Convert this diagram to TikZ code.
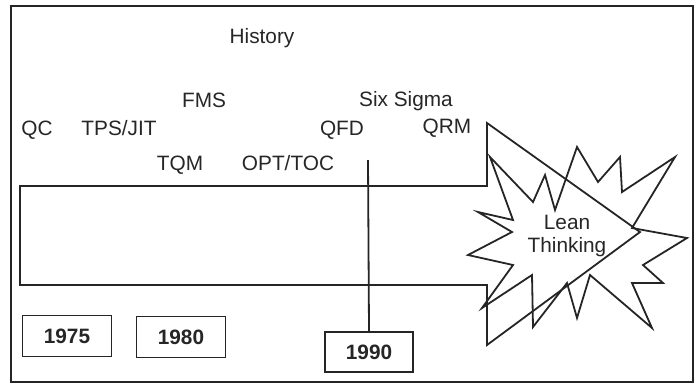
\documentclass[tikz,border=0pt]{standalone}
\usepackage{fontspec}
\setmainfont{Liberation Sans}
\usetikzlibrary{positioning}
\definecolor{cizgiGri}{HTML}{252525}
\definecolor{metinGri}{HTML}{262626}

\begin{document}
\begin{tikzpicture}[x=1pt,y=-1pt,line width=1.8pt,line join=miter,
  yazi/.style={text=metinGri,font=\fontsize{20.8}{23}\selectfont,inner sep=0pt},
  yil/.style={yazi,font=\fontsize{20.8}{23}\selectfont\bfseries,draw=cizgiGri,minimum width=89pt,minimum height=41pt}]
\useasboundingbox (0,0) rectangle (700,384);
\draw[cizgiGri] (11,6) rectangle (693,382);
% time arrow
\draw[cizgiGri] (20,186)--(487,186)--(487,123)--(640,232)--(487,345)--(487,285)--(20,285)--cycle;
% burst
\draw[cizgiGri] (490,157)--(533,202)--(545,175)--(555,210)--(577,147)--(598,182)
  --(620,157)--(622,192)--(675,157)--(632,228)--(687,238)--(643,265)--(663,283)
  --(632,283)--(652,328)--(590,275)--(577,318)--(567,283)--(533,327)--(532,275)
  --(482,308)--(513,265)--(468,255)--(512,232)--(478,212)--(513,220)--cycle;
\node[yazi,anchor=base] (baslik) at (262,43) {History};
\node[yazi,anchor=base] (fms) at (204,107) {FMS};
\node[yazi,anchor=base] (altiSigma) at (406,106) {Six Sigma};
\node[yazi,anchor=base] (qc) at (37,135) {QC};
\node[yazi,anchor=base] (tps) at (119,135) {TPS/JIT};
\node[yazi,anchor=base] (qfd) at (342,135) {QFD};
\node[yazi,anchor=base] (qrm) at (447,133) {QRM};
\node[yazi,anchor=base] (tqm) at (180,170) {TQM};
\node[yazi,anchor=base] (opt) at (288,170) {OPT/TOC};
\node[yazi,align=center] (yalin) at (567,236) {Lean\\Thinking};
\node[yil] (y1975) at (67,336) {1975};
\node[yil] (y1980) at (181,337) {1980};
\node[yil,minimum width=88pt,minimum height=40pt] (y1990) at (369,352) {1990};
\coordinate (isaret) at (368,160);
\draw[cizgiGri] (isaret)--(y1990.north);
\end{tikzpicture}
\end{document}
